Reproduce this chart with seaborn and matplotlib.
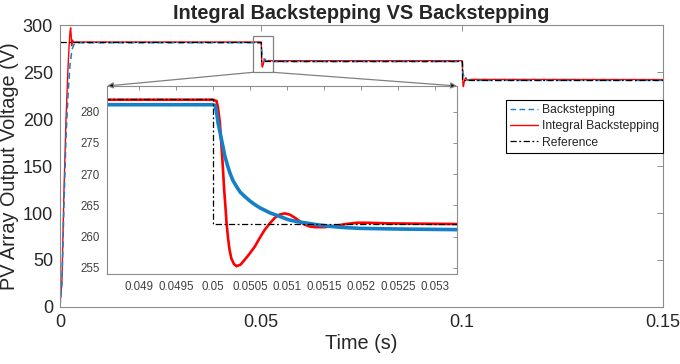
import matplotlib
matplotlib.use("Agg")
import matplotlib.pyplot as plt
import seaborn as sns
from matplotlib.patches import Rectangle
from matplotlib.lines import Line2D

# data
# Backstepping (blue dashed)
bs_t = [0, 0.0005, 0.001, 0.0015, 0.002, 0.0025, 0.003, 0.0035, 0.004, 0.005,
        0.05, 0.05003, 0.05005, 0.05007, 0.050095, 0.050117, 0.05014, 0.050162,
        0.050195, 0.05023, 0.05027, 0.05032, 0.05037, 0.050432, 0.0505, 0.050568,
        0.050635, 0.050703, 0.05077, 0.050838, 0.05093, 0.051018, 0.05113,
        0.05124, 0.0514, 0.05156, 0.05175, 0.052, 0.0525, 0.0533, 0.055,
        0.1, 0.10003, 0.1001, 0.10019, 0.10028, 0.1004, 0.1005, 0.10064, 0.10091,
        0.1013, 0.1019, 0.1025, 0.104, 0.15]
bs_v = [0, 25, 110, 180, 225, 258, 274, 279.5, 280.8, 281.1,
        281.1, 281.0, 280.0, 278.2, 276.8, 275.5, 274.2, 272.9,
        271.5, 270.2, 269.0, 268.0, 267.1, 266.4, 265.7, 265.1,
        264.6, 264.2, 263.8, 263.5, 263.1, 262.7, 262.4,
        262.2, 261.9, 261.65, 261.45, 261.3, 261.2, 261.1, 261.1,
        261.1, 261.0, 258.3, 252.2, 248.2, 246.3, 245.0, 244.0, 242.8,
        241.8, 241.4, 241.2, 241.1, 241.1]

# Integral Backstepping (red solid)
ib_t = [0, 0.0005, 0.001, 0.0015, 0.002, 0.0023, 0.0025, 0.00265, 0.0028, 0.0029,
        0.0031, 0.0034, 0.004,
        0.05, 0.05005, 0.05007, 0.050095, 0.05011, 0.050126, 0.05014, 0.050153,
        0.05017, 0.050185, 0.050205, 0.050225, 0.05025, 0.050285, 0.05032,
        0.050375, 0.050432, 0.0505, 0.050568, 0.050635, 0.050703, 0.05077,
        0.050838, 0.0509, 0.050973, 0.05104, 0.05111, 0.05118, 0.05124, 0.05131,
        0.05138, 0.05151, 0.05165, 0.0518, 0.05195, 0.0521, 0.05236, 0.0533,
        0.1, 0.10003, 0.1001, 0.10014, 0.10019, 0.10023, 0.10028, 0.10034, 0.1004,
        0.1005, 0.10064, 0.10077, 0.1009, 0.101, 0.10114, 0.10127, 0.1014, 0.1017,
        0.1021, 0.15]
ib_v = [0, 30, 125, 200, 255, 280, 293, 297, 288, 278,
        284, 281.5, 281.9,
        281.9, 281.7, 280.6, 278.2, 275.6, 272.9, 270.1, 267.5,
        264.8, 262.2, 259.8, 257.9, 256.5, 255.6, 255.25,
        255.5, 256.3, 257.3, 258.4, 259.8, 261.1, 262.1,
        263.0, 263.5, 263.7, 263.5, 263.0, 262.4, 261.9, 261.6,
        261.5, 261.5, 261.7, 262.0, 262.2, 262.2, 262.1, 262.0,
        262.0, 261.9, 258.8, 251.0, 243.0, 238.0, 235.5, 234.5, 235.5,
        238.0, 240.7, 242.9, 243.7, 243.8, 242.6, 241.5, 241.3, 241.8,
        242.2, 242.0]

# Reference (black dash-dot)
ref_t = [0, 0.05, 0.05, 0.1, 0.1, 0.15]
ref_v = [282, 282, 262, 262, 242, 242]

main_xticks = [0, 0.05, 0.1, 0.15]
main_xlabels = ["0", "0.05", "0.1", "0.15"]
main_yticks = [0, 50, 100, 150, 200, 250, 300]
zoom_xticks = [0.049, 0.0495, 0.05, 0.0505, 0.051, 0.0515, 0.052, 0.0525, 0.053]
zoom_xlabels = ["0.049", "0.0495", "0.05", "0.0505", "0.051", "0.0515",
                "0.052", "0.0525", "0.053"]
zoom_yticks = [255, 260, 265, 270, 275, 280]

blue = "#1380c8"
red = "#ff0000"

sns.set_style("white")
plt.rcParams["font.family"] = ["Liberation Sans", "DejaVu Sans"]

fig = plt.figure(figsize=(6.8, 3.64), dpi=100)
ax = fig.add_axes([0.0882, 0.1566, 0.8868, 0.7747])

sns.lineplot(x=ib_t, y=ib_v, ax=ax, sort=False, estimator=None,
             color=red, linewidth=1.0)
sns.lineplot(x=bs_t, y=bs_v, ax=ax, sort=False, estimator=None,
             color=blue, linewidth=1.1, linestyle=(0, (4, 2.5)))
sns.lineplot(x=ref_t, y=ref_v, ax=ax, sort=False, estimator=None,
             color="black", linewidth=0.9, linestyle=(0, (5, 2, 1.5, 2)))

ax.set_xlim(0, 0.15)
ax.set_ylim(0, 300)
ax.set_xticks(main_xticks)
ax.set_xticklabels(main_xlabels)
ax.set_yticks(main_yticks)
ax.tick_params(direction="in", top=True, right=True, length=4, width=0.6,
               color="#7f7f7f", labelcolor="#262626", labelsize=13, pad=5)
for s in ax.spines.values():
    s.set_color("#8c8c8c")
    s.set_linewidth(0.8)
ax.set_xlabel("Time (s)", fontsize=14.3, color="#262626", labelpad=2)
ax.set_ylabel("PV Array Output Voltage (V)", fontsize=14.3, color="#262626",
              labelpad=3)
ax.set_title("Integral Backstepping VS Backstepping", fontsize=14.3,
             fontweight="bold", pad=4)

# legend, same order as the original
handles = [Line2D([], [], color=blue, lw=1.0, linestyle=(0, (4, 2.5))),
           Line2D([], [], color=red, lw=1.0),
           Line2D([], [], color="black", lw=0.9, linestyle=(0, (5, 2, 1.5, 2)))]
leg = ax.legend(handles, ["Backstepping", "Integral Backstepping", "Reference"],
                loc="upper right", bbox_to_anchor=(1.0, 0.734), borderaxespad=0,
                fontsize=8.7, handlelength=2.3, labelspacing=0.35,
                handletextpad=0.3, borderpad=0.35, fancybox=False,
                framealpha=1, edgecolor="black")
leg.get_frame().set_linewidth(0.8)
for t in leg.get_texts():
    t.set_color("#262626")

# zoom box on the main plot
ax.add_patch(Rectangle((0.0481, 249.7), 0.0048, 38.6, fill=False,
                       edgecolor="#808080", linewidth=0.9, zorder=5))

# inset
ax_in = fig.add_axes([0.1574, 0.2473, 0.5147, 0.5165])
sns.lineplot(x=ib_t, y=ib_v, ax=ax_in, sort=False, estimator=None,
             color=red, linewidth=1.9)
sns.lineplot(x=bs_t, y=bs_v, ax=ax_in, sort=False, estimator=None,
             color=blue, linewidth=2.6)
sns.lineplot(x=ref_t, y=ref_v, ax=ax_in, sort=False, estimator=None,
             color="black", linewidth=0.9, linestyle=(0, (5, 2, 1.5, 2)))
ax_in.set_xlim(0.04857, 0.0533)
ax_in.set_ylim(254.0, 284.1)
ax_in.set_xticks(zoom_xticks)
ax_in.set_xticklabels(zoom_xlabels)
ax_in.set_yticks(zoom_yticks)
ax_in.set_facecolor("white")
ax_in.tick_params(direction="in", top=True, right=True, length=3, width=0.6,
                  color="#7f7f7f", labelcolor="#404040", labelsize=8.3, pad=5)
for s in ax_in.spines.values():
    s.set_color("#8c8c8c")
    s.set_linewidth(0.8)

# arrows from the zoom box to the inset corners
for corner, start in [((0, 1), (0.0481, 249.7)), ((1, 1), (0.0529, 249.7))]:
    ax_in.annotate("", xy=corner, xycoords="axes fraction",
                   xytext=start, textcoords=ax.transData,
                   annotation_clip=False,
                   arrowprops=dict(arrowstyle="-|>", color="#808080", lw=0.9,
                                   mutation_scale=9, shrinkA=0, shrinkB=0,
                                   fc="black", ec="#808080"))

fig.savefig("out.png", dpi=100)
